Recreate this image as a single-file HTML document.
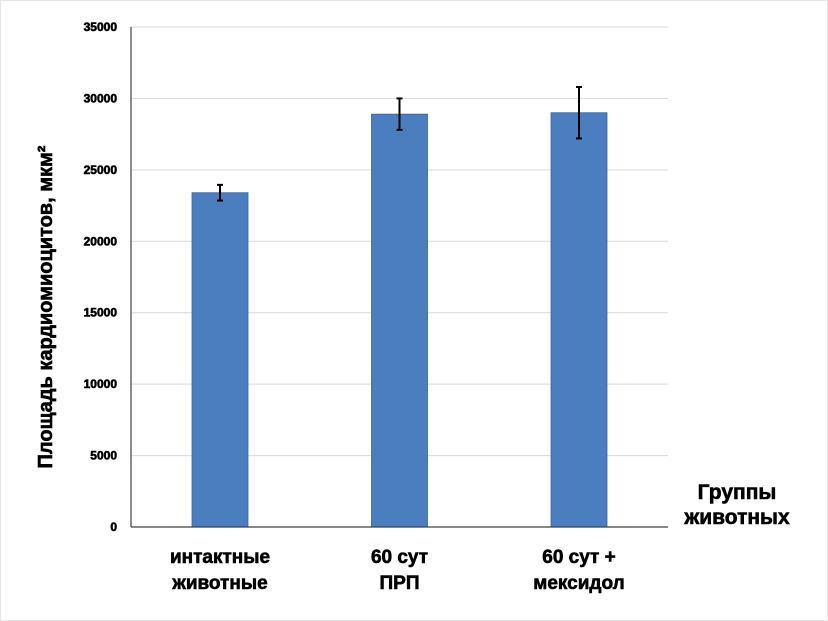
<!DOCTYPE html>
<html><head><meta charset="utf-8"><style>
html,body{margin:0;padding:0;background:#fff;}
svg{display:block;font-family:"Liberation Sans",Arial,sans-serif;}
.heavy{stroke:#000;stroke-width:0.6;}
</style></head><body>
<svg id="chart" width="828" height="621" viewBox="0 0 828 621">
<rect x="0.5" y="0.5" width="827" height="620" fill="#fff" stroke="#e6e6e6"/>
<g id="grid"></g>
<g id="bars"></g>
<g id="axes"></g>
<text class="heavy" x="0" y="0" transform="translate(52,307) rotate(-90)" text-anchor="middle" font-size="20" font-weight="bold">Площадь кардиомиоцитов, мкм²</text>
<text class="heavy" x="737" y="499" text-anchor="middle" font-size="21" font-weight="bold"><tspan x="737">Группы</tspan><tspan x="737" dy="25">животных</tspan></text>
</svg>
<script>
const categories=[["интактные","животные"],["60 сут","ПРП"],["60 сут +","мексидол"]];
const values=[23400,28900,29000];
const errors=[550,1100,1800];
const yTicks=[0,5000,10000,15000,20000,25000,30000,35000];
const NS="http://www.w3.org/2000/svg";
const x0=131,x1=668,y0=527,y1=27,yMax=35000;
function yScale(v){return y0-(v/yMax)*(y0-y1);}
function xCenter(i){return 220+i*179.5;}
function mk(tag,attrs,parent){const e=document.createElementNS(NS,tag);for(const k in attrs)e.setAttribute(k,attrs[k]);parent.appendChild(e);return e;}
const grid=document.getElementById('grid'),bars=document.getElementById('bars'),axes=document.getElementById('axes');
yTicks.forEach(t=>{
 if(t>0){const l=mk('line',{x1:x0,x2:x1,y1:yScale(t),y2:yScale(t),stroke:'#d9d9d9','stroke-width':1},grid);
 
 }
 const tx=mk('text',{x:117,y:yScale(t)+4,'text-anchor':'end','font-size':12,'font-weight':'bold',class:'heavy','stroke-width':0.3},axes);
 tx.textContent=t;
 
 
});
values.forEach((v,i)=>{
 const cx=xCenter(i),w=56;
 const r=mk('rect',{x:cx-w/2,y:yScale(v),width:w,height:y0-yScale(v),fill:'#4a7ebf',stroke:'#3a6699','stroke-width':0.8},bars);
 
 
 const e=errors[i];
 const g=mk('g',{stroke:'#000','stroke-width':2},bars);
 
 
 mk('line',{x1:cx,x2:cx,y1:yScale(v+e),y2:yScale(v-e)},g);
 mk('line',{x1:cx-3,x2:cx+3,y1:yScale(v+e),y2:yScale(v+e)},g);
 mk('line',{x1:cx-3,x2:cx+3,y1:yScale(v-e),y2:yScale(v-e)},g);
 const t=mk('text',{x:cx,y:563,'text-anchor':'middle','font-size':19,'font-weight':'bold',class:'heavy'},axes);
 
 
 categories[i].forEach((s,j)=>{const sp=mk('tspan',{x:cx,dy:j?26:0},t);sp.textContent=s;});
});
const ya=mk('line',{x1:x0,x2:x0,y1:y1,y2:y0,stroke:'#404040','stroke-width':1.2},axes);


const xa=mk('line',{x1:x0,x2:x1,y1:y0,y2:y0,stroke:'#404040','stroke-width':1.2},axes);


</script>
</body></html>
